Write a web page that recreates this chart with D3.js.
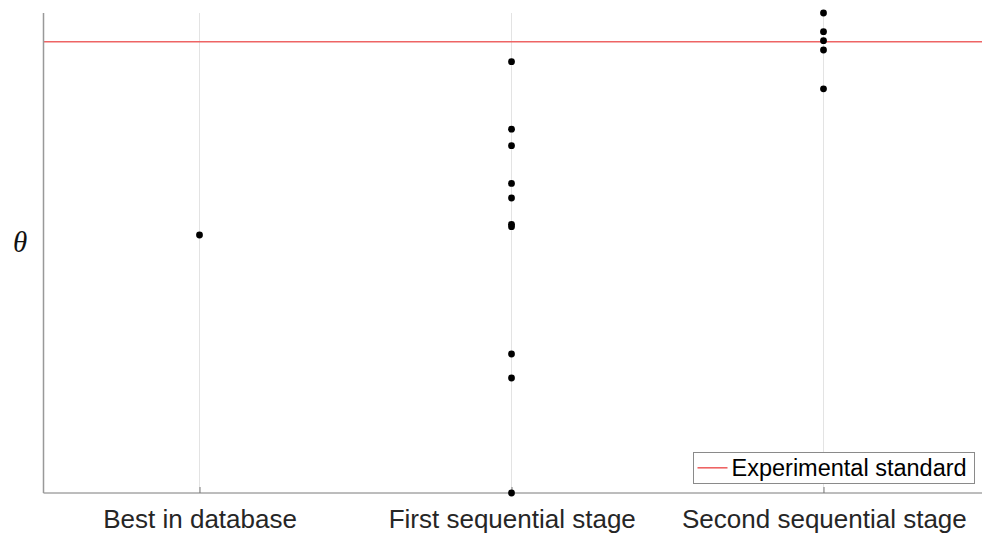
<!DOCTYPE html>
<html>
<head>
<meta charset="utf-8">
<script src="https://cdn.jsdelivr.net/npm/d3@7"></script>
<style>
  body { margin: 0; background: #fff; }
  svg { display: block; }
</style>
</head>
<body>
<div id="chart"></div>
<script>
// categories along the x axis
const categories = ['Best in database', 'First sequential stage', 'Second sequential stage'];

// theta values for each stage (arbitrary units, no y ticks shown)
const bestValues = [0.5375];
const firstStageValues = [0.8985, 0.758, 0.7235, 0.645, 0.6146, 0.5598, 0.5548, 0.2896, 0.2396, 0.0];
const secondStageValues = [1.0, 0.961, 0.9423, 0.9229, 0.842];

const experimentalStandard = 0.9406;
const yDomain = [0, 1];

const seriesValues = [bestValues, firstStageValues, secondStageValues];

const width = 982, height = 539;
const margin = { top: 13, right: 2, bottom: 46, left: 43.5 };

const svg = d3.select('#chart').append('svg')
  .attr('width', width)
  .attr('height', height);

const x = d3.scalePoint()
  .domain(categories)
  .range([margin.left, width - margin.right])
  .padding(0.5);

const y = d3.scaleLinear()
  .domain(yDomain)
  .range([height - margin.bottom, margin.top]);

const bottomY = height - margin.bottom;
const snap = v => Math.floor(v) + 0.5;
const refRed = 'rgb(238,100,100)';

// vertical grid lines
svg.append('g')
  .selectAll('line')
  .data(categories)
  .join('line')
  .attr('x1', d => snap(x(d)))
  .attr('x2', d => snap(x(d)))
  .attr('y1', margin.top)
  .attr('y2', bottomY)
  .attr('stroke', '#e3e3e3')
  .attr('stroke-width', 1);

// reference line
svg.append('line')
  .attr('x1', margin.left)
  .attr('x2', width)
  .attr('y1', y(experimentalStandard) + 0.3)
  .attr('y2', y(experimentalStandard) + 0.3)
  .style('stroke', refRed)
  .style('stroke-width', 1.6);

// x axis
const xAxis = d3.axisBottom(x)
  .tickSize(-6)
  .tickPadding(17);

const gx = svg.append('g')
  .attr('transform', `translate(0,${bottomY})`)
  .call(xAxis);

gx.select('.domain').attr('stroke', '#7a7a7a').attr('d', `M${margin.left},0H${width}`);
gx.selectAll('.tick line').attr('stroke', '#7a7a7a')
  .attr('transform', d => `translate(${snap(x(d)) - x(d)},0)`);
gx.selectAll('.tick text')
  .attr('fill', '#262626')
  .style('font-family', 'Arial, "Liberation Sans", sans-serif')
  .style('font-size', '26px');

// y axis line (no ticks)
svg.append('line')
  .attr('x1', margin.left)
  .attr('x2', margin.left)
  .attr('y1', margin.top)
  .attr('y2', bottomY)
  .attr('stroke', '#999')
  .attr('stroke-width', 1.5);

// y label
svg.append('text')
  .attr('x', 20)
  .attr('y', 252)
  .attr('text-anchor', 'middle')
  .style('font-family', '"Liberation Serif", "DejaVu Serif", serif')
  .style('font-style', 'italic')
  .style('font-size', '29px')
  .attr('fill', '#111')
  .text('θ');

// points
const points = [];
seriesValues.forEach((vals, i) => {
  vals.forEach(v => points.push({ cat: categories[i], value: v }));
});

svg.append('g')
  .selectAll('circle')
  .data(points)
  .join('circle')
  .attr('cx', d => snap(x(d.cat)))
  .attr('cy', d => y(d.value))
  .attr('r', 3.4)
  .attr('fill', '#000');

// legend
const legend = svg.append('g').attr('transform', 'translate(693.5,452.5)');
legend.append('rect')
  .attr('width', 281)
  .attr('height', 31)
  .attr('fill', '#fff')
  .attr('stroke', '#8a8a8a')
  .attr('stroke-width', 1);
legend.append('line')
  .attr('x1', 4).attr('x2', 34)
  .attr('y1', 15.3).attr('y2', 15.3)
  .style('stroke', refRed)
  .style('stroke-width', 1.6);
legend.append('text')
  .attr('x', 38)
  .attr('y', 23.5)
  .attr('fill', '#000')
  .style('font-family', 'Arial, "Liberation Sans", sans-serif')
  .style('font-size', '23.5px')
  .text('Experimental standard');
</script>
</body>
</html>
